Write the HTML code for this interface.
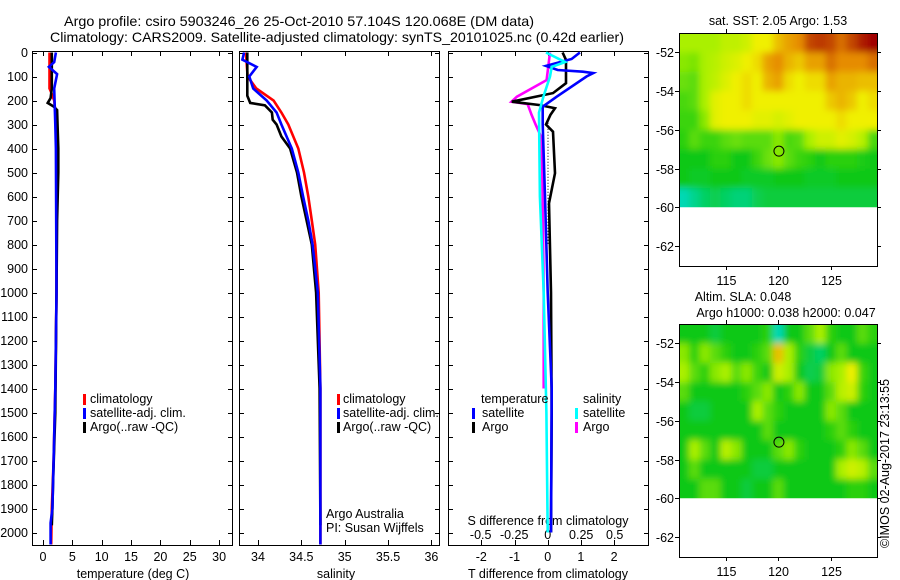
<!DOCTYPE html>
<html><head><meta charset="utf-8"><style>
body{margin:0;background:#fff;}
svg{display:block;font-family:"Liberation Sans",sans-serif;}
text{font-size:12.5px;fill:#000;}
</style></head><body>
<svg id="fig" width="900" height="580" viewBox="0 0 900 580">
<defs><filter id="smooth" x="0" y="0" width="1" height="1"><feGaussianBlur stdDeviation="3.5" edgeMode="duplicate"/></filter></defs>
<text x="64" y="26" textLength="470" lengthAdjust="spacingAndGlyphs" style="font-size:14px">Argo profile: csiro 5903246_26 25-Oct-2010 57.104S 120.068E (DM data)</text>
<text x="50" y="42" textLength="574" lengthAdjust="spacingAndGlyphs" style="font-size:14px">Climatology: CARS2009. Satellite-adjusted climatology: synTS_20101025.nc (0.42d earlier)</text>
<text x="778" y="25" text-anchor="middle">sat. SST: 2.05 Argo: 1.53</text>
<text x="743" y="301" text-anchor="middle">Altim. SLA: 0.048</text>
<text x="786" y="317" text-anchor="middle">Argo h1000: 0.038 h2000: 0.047</text>
<text x="0" y="0" transform="translate(889,548) rotate(-90)">©IMOS 02-Aug-2017 23:13:55</text>
</svg>
<script>
// ---- depth axis ----
const depthTicks=[0,100,200,300,400,500,600,700,800,900,1000,1100,1200,1300,1400,1500,1600,1700,1800,1900,2000];
// ---- temperature panel data ----
const tClimDepth=[0,150,160,200,300,400,1000,1400,1700,1900,2050];
const tClim=[1.1,1.1,1.3,1.9,2.3,2.3,2.3,2.1,1.8,1.5,1.4];
const tSatDepth=[0,40,60,90,150,300,400,1000,1400,1700,1900,1960,2050];
const tSat=[2.2,1.9,1.0,2.4,1.9,2.1,2.2,2.3,2.1,1.8,1.6,1.3,1.3];
const tArgoDepth=[0,150,190,210,225,240,400,500,700,1000,1500,1800,1900,1970];
const tArgo=[1.5,1.5,1.3,0.8,1.8,2.4,2.6,2.6,2.4,2.3,2.1,1.7,1.6,1.5];
const tTicks=[0,5,10,15,20,25,30];
// ---- salinity panel data ----
const sClimDepth=[0,100,150,200,250,300,400,500,600,700,800,1000,1400,2050];
const sClim=[33.86,33.88,33.98,34.18,34.27,34.35,34.465,34.53,34.58,34.62,34.66,34.70,34.72,34.72];
const sSatDepth=[0,30,60,100,150,200,250,300,400,500,600,700,800,1000,1400,2000,2050];
const sSat=[33.84,33.82,33.985,33.9,33.945,34.1,34.215,34.27,34.39,34.465,34.52,34.58,34.63,34.69,34.72,34.72,34.72];
const sArgoDepth=[0,180,210,220,250,280,300,350,400,500,600,700,800,1000,1400,1970];
const sArgo=[33.877,33.877,33.91,34.08,34.16,34.17,34.215,34.27,34.37,34.45,34.5,34.56,34.62,34.67,34.71,34.72];
const sTicks=[34,34.5,35,35.5,36];
// ---- difference panel data ----
const dTSatDepth=[0,27,56,73,80,86,100,184,226,300,600,1000,1400,2000];
const dTSat=[0.97,0.72,-0.05,0.3,1.06,1.37,1.17,0.27,-0.15,-0.15,-0.08,0.0,0.12,0.1];
const dTArgoDepth=[0,31,128,169,205,219,232,260,300,330,503,628,1000,1500,2000];
const dTArgo=[0.45,0.55,0.55,0.16,-1.08,-0.23,0.22,0.08,-0.05,0.16,0.22,0.04,0.1,0.12,0.1];
const dSSatDepth=[0,40,60,100,180,250,600,1000,1500,2000];
const dSSat=[-0.013,0.13,0.03,0.017,-0.03,-0.065,-0.058,-0.03,-0.01,0.0];
const dSArgoDepth=[0,115,184,205,215,260,300,350,500,1000,1400];
const dSArgo=[0.017,-0.008,-0.23,-0.27,-0.15,-0.12,-0.09,-0.05,-0.04,-0.03,-0.03];
const dTTicks=[-2,-1,0,1,2];
const dSTicks=[-0.5,-0.25,0,0.25,0.5];
// ---- map data (rows lat -51..-60, cols lon 110.5..129.5, 1 deg) ----
const latTicks=[-52,-54,-56,-58,-60,-62];
const lonTicks=[115,120,125];
const sstGrid=[
[2,2,2,2,2.3,2.3,2.5,3,3,3.5,3.8,4,4.5,4.6,4.5,4.2,4.5,4.8,5],
[1.8,1.7,2,2.2,2.5,2.7,3,3.2,3.8,4,3.6,3.4,3.8,3.8,4.2,4,4,4,4.2],
[1.6,1.5,2,2.3,2.7,3,3.2,3,3.6,3.8,3.2,3,3.2,3.2,3.8,3.6,3.6,3.5,3.5],
[1.4,1.5,2,2.8,3,3,3.2,3,3,3,3,3,3,3,3.4,3.6,3.4,3,3.2],
[1.3,1.3,1.8,2.8,3,3,3,2.8,2.8,2.6,2.8,3,3,3,3,3.2,3,3,3],
[1.2,1.5,1.3,1.3,1.5,1.6,1.5,1.5,1.5,1.8,1.4,1.5,2,2.5,2.5,2.8,2.6,2.2,1.4],
[1,1,1,1.2,1.2,1,1,1.3,1.6,1.8,1.5,1.3,1.2,1,1.2,1.2,1.2,1.1,1],
[1,0.9,0.9,1,1,1,0.9,0.9,0.9,1,1,1,0.9,0.9,0.9,1,1,1,1],
[0.2,0.4,0.6,0.7,0.6,0.5,0.5,0.7,0.8,0.8,0.8,0.8,0.8,0.8,0.8,0.8,0.8,0.8,0.8]];
const slaGrid=[
[1,1,1,0.8,1,1,1,1,1.2,0.2,1,1,1.5,2,1.2,1,1,1.5,1.2],
[1.8,1.2,1.8,1.5,1.2,1,1,1.2,1.5,3.5,2,1.2,0.8,0.6,1,1.5,1,1,1],
[2,1.5,1.2,1.8,2,1.5,1.8,1.3,1,2.5,2,1,0.7,0.8,1.8,2,3,1.3,1],
[1.5,1,1,1,1,1,1.2,1.5,1.8,1,1.2,1.8,1,1,1.5,2.2,2.5,1.2,1],
[1,0.8,0.8,1,1,1,1,2,1.5,1.2,1,1,1,1,1.8,1.5,1,1,1],
[1,1,1,1,1,1,1,1,1.5,1,1,1,1,1,1.2,1.5,1.2,1,1],
[1,2,1.5,1,2.2,1.8,1,1,1,1.5,1.8,1.2,1,1,1,1.2,1.8,1.5,1],
[1,1.5,1,1,1,1,1,0.8,0.8,1,1,1,1,1,1,2,2.5,2.2,1.5],
[1,1,1.5,1.5,1,1,0.8,1,1,1.5,1,1,1,1,1,1,1.2,1.2,1]];
const floatLon=120.068, floatLat=-57.104;

const NS="http://www.w3.org/2000/svg";
const svg=document.getElementById('fig');
function mk(tag,attrs,parent){const e=document.createElementNS(NS,tag);for(const k in attrs)e.setAttribute(k,attrs[k]);(parent||svg).appendChild(e);return e;}
const top0=51,bot0=545;
const yD=d=>52.5+d*0.24;

function panel(name,x0,x1){
  const g=mk('g',{});
  
  
  const r=mk('rect',{x:x0+0.5,y:top0+0.5,width:x1-x0,height:bot0-top0,fill:'none',stroke:'#000','stroke-width':1},g);
  
  
  depthTicks.forEach(d=>{
    const y=Math.round(yD(d))+0.5;
    mk('line',{x1:x0,x2:x0+5,y1:y,y2:y,stroke:'#000'},g);
    mk('line',{x1:x1-4,x2:x1+1,y1:y,y2:y,stroke:'#000'},g);
  });
  return g;
}
function line(g,xs,ds,fx,color,name,w,dash){
  const pts=xs.map((v,i)=>fx(v).toFixed(1)+','+yD(ds[i]).toFixed(1)).join(' ');
  const p=mk('polyline',{points:pts,fill:'none',stroke:color,'stroke-width':w||2.6,'stroke-linejoin':'miter'},g);
  if(dash)p.setAttribute('stroke-dasharray',dash);
  
  
}
function xTicks(g,ticks,fx,ylab){
  ticks.forEach(t=>{
    const x=Math.round(fx(t))+0.5;
    mk('line',{x1:x,x2:x,y1:bot0-5,y2:bot0,stroke:'#000'},g);
    mk('line',{x1:x,x2:x,y1:top0,y2:top0+5,stroke:'#000'},g);
    const tx=mk('text',{x:fx(t),y:ylab,'text-anchor':'middle'},g);
    tx.textContent=String(t);
    
    
  });
}
function label(g,x,y,txt,name,anchor){
  const t=mk('text',{x:x,y:y,'text-anchor':anchor||'start'},g);
  t.textContent=txt;
  
  
}
function legendMark(g,x,y,color,name){
  const r=mk('rect',{x:x,y:y-10,width:3,height:11,fill:color},g);
  
  
}

// Panel 1 temperature
const fT=v=>43+v*5.87;
const g1=panel('temperature-panel',32,232);
depthTicks.forEach(d=>{
  const t=mk('text',{x:28,y:yD(d)+4.5,'text-anchor':'end'},g1);
  t.textContent=String(d);
  
  
});
xTicks(g1,tTicks,fT,561);
label(g1,133,578,'temperature (deg C)','temperature-axis-title','middle');
line(g1,tClim,tClimDepth,fT,'#ff0000','temp-climatology-line');
line(g1,tArgo,tArgoDepth,fT,'#000000','temp-argo-line');
line(g1,tSat,tSatDepth,fT,'#0000ff','temp-satellite-line');
legendMark(g1,83,404,'#f00','legend-climatology-mark');label(g1,90,403,'climatology','legend-climatology');
legendMark(g1,83,418,'#00f','legend-satellite-mark');label(g1,90,417,'satellite-adj. clim.','legend-satellite');
legendMark(g1,83,432,'#000','legend-argo-mark');label(g1,90,431,'Argo(..raw -QC)','legend-argo');

// Panel 2 salinity
const fS=v=>258+(v-34)*86.7;
const g2=panel('salinity-panel',239,439);
xTicks(g2,sTicks,fS,561);
label(g2,336,578,'salinity','salinity-axis-title','middle');
line(g2,sClim,sClimDepth,fS,'#ff0000','sal-climatology-line');
line(g2,sArgo,sArgoDepth,fS,'#000000','sal-argo-line');
line(g2,sSat,sSatDepth,fS,'#0000ff','sal-satellite-line');
legendMark(g2,337,404,'#f00','legend2-climatology-mark');label(g2,343,403,'climatology','legend2-climatology');
legendMark(g2,337,418,'#00f','legend2-satellite-mark');label(g2,343,417,'satellite-adj. clim.','legend2-satellite');
legendMark(g2,337,432,'#000','legend2-argo-mark');label(g2,343,431,'Argo(..raw -QC)','legend2-argo');
label(g2,326,518,'Argo Australia','argo-australia-label');
label(g2,326,532,'PI: Susan Wijffels','pi-label');

// Panel 3 differences
const fDT=v=>547.7+v*33.2;
const fDS=v=>547.7+v*134;
const g3=panel('difference-panel',448,648);
xTicks(g3,dTTicks,fDT,561);
dSTicks.forEach(t=>{
  const tx=mk('text',{x:fDS(t),y:539,'text-anchor':'middle'},g3);
  tx.textContent=String(t);
  
  
});
label(g3,548,525,'S difference from climatology','s-diff-axis-title','middle');
label(g3,548,578,'T difference from climatology','t-diff-axis-title','middle');
const zl=mk('line',{x1:548,x2:548,y1:yD(280),y2:yD(800),stroke:'#000','stroke-dasharray':'1,2'},g3);


line(g3,dSArgo,dSArgoDepth,fDS,'#ff00ff','sal-argo-diff-line');
line(g3,dTArgo,dTArgoDepth,fDT,'#000000','temp-argo-diff-line');
line(g3,dTSat,dTSatDepth,fDT,'#0000ff','temp-sat-diff-line');
line(g3,dSSat,dSSatDepth,fDS,'#00ffff','sal-sat-diff-line');
label(g3,481,403,'temperature','legend3-temperature-header');
label(g3,583,403,'salinity','legend3-salinity-header');
legendMark(g3,472,418,'#00f','legend3-tsat-mark');label(g3,482,417,'satellite','legend3-tsat');
legendMark(g3,472,432,'#000','legend3-targo-mark');label(g3,482,431,'Argo','legend3-targo');
legendMark(g3,575,418,'#0ff','legend3-ssat-mark');label(g3,583,417,'satellite','legend3-ssat');
legendMark(g3,575,432,'#f0f','legend3-sargo-mark');label(g3,583,431,'Argo','legend3-sargo');

// Maps
const stops=[[0,[0,220,220]],[1,[10,200,20]],[2,[170,240,0]],[3,[240,240,0]],[4,[230,140,0]],[5,[160,0,0]]];
function cmap(v){
  v=Math.max(0,Math.min(5,v));
  for(let i=0;i<stops.length-1;i++){
    const [a,ca]=stops[i],[b,cb]=stops[i+1];
    if(v<=b){const f=(v-a)/(b-a);return 'rgb('+ca.map((c,k)=>Math.round(c+(cb[k]-c)*f)).join(',')+')';}
  }
  return 'rgb(160,0,0)';
}
function map(name,grid,yTop){
  const x0=679,x1=877,yBot=yTop+233;
  const fx=lon=>679+(lon-110.55)*10.5;
  const fy=lat=>yTop+19.4+(-52-lat)*19.35;
  const g=mk('g',{});
  
  
  const cid=name+'-clip';
  const cp=mk('clipPath',{id:cid},g);mk('rect',{x:x0,y:yTop,width:x1-x0,height:fy(-60)-yTop},cp);
  const cg=mk('g',{'clip-path':'url(#'+cid+')'},g);
  const bg=mk('g',{filter:'url(#smooth)'},cg);
  grid.forEach((row,ri)=>row.forEach((v,ci)=>{
    const lon=110.5+ci, lat=-51-ri;
    const yt=fy(lat+(ri===0?1:0)), yb=fy(lat-1)+(ri===grid.length-1?8:0);
    const c=mk('rect',{x:(fx(lon)-(ci===0?8:0)).toFixed(1),y:yt.toFixed(1),width:10.6+(ci===0||ci===row.length-1?8:0),height:(yb-yt+0.6).toFixed(1),fill:cmap(v)},bg);
    
    
  }));
  const fr=mk('rect',{x:x0+0.5,y:yTop+0.5,width:x1-x0,height:yBot-yTop,fill:'none',stroke:'#000'},g);
  
  
  latTicks.forEach(l=>{
    const y=Math.round(fy(l))+0.5;
    mk('line',{x1:x0-4,x2:x0,y1:y,y2:y,stroke:'#000'},g);
    mk('line',{x1:x1,x2:x1+4,y1:y,y2:y,stroke:'#000'},g);
    const t=mk('text',{x:x0-5,y:y+4.5,'text-anchor':'end'},g);
    t.textContent=String(l);
    
    
  });
  lonTicks.forEach(l=>{
    const x=Math.round(fx(l))+0.5;
    mk('line',{x1:x,x2:x,y1:yBot,y2:yBot+4,stroke:'#000'},g);
    mk('line',{x1:x,x2:x,y1:yTop-4,y2:yTop,stroke:'#000'},g);
    const t=mk('text',{x:x,y:yBot+19,'text-anchor':'middle'},g);
    t.textContent=String(l);
    
    
  });
  const m=mk('circle',{cx:fx(floatLon),cy:fy(floatLat),r:5,fill:'none',stroke:'#000','stroke-width':1},g);
  
  
}
map('sst-map',sstGrid,33);
map('sla-map',slaGrid,324);
</script>
</body></html>
